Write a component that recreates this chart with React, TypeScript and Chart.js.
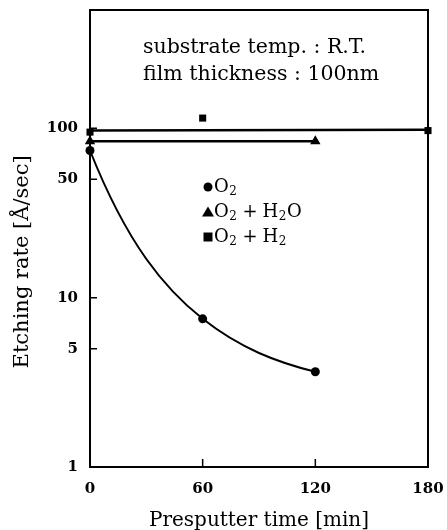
import React, { useEffect, useRef } from "react";
import { Chart, registerables } from "chart.js";

Chart.register(...registerables);

// ---- data ----
const xTicks = [0, 60, 120, 180];
const yTicks = [1, 5, 10, 50, 100];
const seriesNames = ["O2", "O2+H2O", "O2+H2"];
const o2X = [0, 60, 120];
const o2Y = [74, 7.5, 3.65];
const h2oX = [0, 120];
const h2oY = [84, 84];
const h2X = [0, 60, 180];
const h2Y = [95, 115, 97];
const h2FitX = [0, 180];
const h2FitY = [97, 98];
const noteLines = ["substrate temp. : R.T.", "film thickness : 100nm"];
const xTitle = "Presputter time [min]";
const yTitle = "Etching rate [Å/sec]";

const FONT = "'DejaVu Serif', 'Liberation Serif', serif";

const pts = (xs: number[], ys: number[]) => xs.map((x, i) => ({ x, y: ys[i] }));

function drawChem(ctx: CanvasRenderingContext2D, label: string, x: number, y: number, size: number) {
  let cx = x;
  ctx.textBaseline = "middle";
  ctx.textAlign = "left";
  for (const ch of label) {
    if (/\d/.test(ch)) {
      ctx.font = `${Math.round(size * 0.67)}px ${FONT}`;
      ctx.fillText(ch, cx + 0.5, y + size * 0.28);
      cx += ctx.measureText(ch).width + 1;
    } else if (ch === "+") {
      ctx.font = `${size}px ${FONT}`;
      cx += size * 0.28;
      ctx.fillText("+", cx, y);
      cx += ctx.measureText("+").width + size * 0.28;
    } else {
      ctx.font = `${size}px ${FONT}`;
      ctx.fillText(ch, cx, y);
      cx += ctx.measureText(ch).width;
    }
  }
}

function drawMarker(ctx: CanvasRenderingContext2D, style: string, x: number, y: number) {
  ctx.beginPath();
  if (style === "circle") {
    ctx.arc(x, y, 4.5, 0, Math.PI * 2);
  } else if (style === "triangle") {
    ctx.moveTo(x, y - 5.5);
    ctx.lineTo(x + 6, y + 4.5);
    ctx.lineTo(x - 6, y + 4.5);
    ctx.closePath();
  } else {
    ctx.rect(x - 4.5, y - 4.5, 9, 9);
  }
  ctx.fill();
}

// smooth decay curve through the O2 points (Hermite segments, tangents of a
// geometric-decay model of the three equally spaced points, in pixel space)
const curvePlugin = {
  id: "o2curve",
  beforeDatasetsDraw(chart: any) {
    const { ctx, scales } = chart;
    const P = o2X.map((x, i) => ({
      x: scales.x.getPixelForValue(x),
      y: scales.y.getPixelForValue(o2Y[i]),
    }));
    const d1 = P[1].y - P[0].y;
    const d2 = P[2].y - P[1].y;
    const h = P[1].x - P[0].x;
    const q = d2 / d1;
    const c = -h / Math.log(q);
    const A = d1 / (1 - q);
    const m = [A / c, (A * q) / c, (A * q * q) / c];
    ctx.save();
    ctx.strokeStyle = "#000";
    ctx.lineWidth = 2;
    ctx.beginPath();
    ctx.moveTo(P[0].x, P[0].y);
    for (let i = 0; i < P.length - 1; i++) {
      const a = P[i];
      const b = P[i + 1];
      const hh = (b.x - a.x) / 3;
      ctx.bezierCurveTo(a.x + hh, a.y + m[i] * hh, b.x - hh, b.y - m[i + 1] * hh, b.x, b.y);
    }
    ctx.stroke();
    ctx.restore();
  },
};

const decorPlugin = {
  id: "decor",
  afterDraw(chart: any) {
    const { ctx, chartArea: a, scales } = chart;
    const xs = scales.x;
    const ys = scales.y;
    ctx.save();
    ctx.strokeStyle = "#000";
    ctx.fillStyle = "#000";
    // frame
    ctx.lineWidth = 2;
    ctx.strokeRect(a.left, a.top, a.right - a.left, a.bottom - a.top);
    // inward ticks
    ctx.lineWidth = 1.5;
    ctx.beginPath();
    for (const v of yTicks) {
      if (v === 1) continue;
      const py = ys.getPixelForValue(v);
      ctx.moveTo(a.left, py);
      ctx.lineTo(a.left + 7, py);
    }
    for (const v of xTicks) {
      if (v === 0 || v === 180) continue;
      const px = xs.getPixelForValue(v);
      ctx.moveTo(px, a.bottom);
      ctx.lineTo(px, a.bottom - 8);
    }
    ctx.stroke();
    // notes
    ctx.font = `20.5px ${FONT}`;
    ctx.textAlign = "left";
    ctx.textBaseline = "alphabetic";
    ctx.fillText(noteLines[0], 143, 53);
    ctx.fillText(noteLines[1], 143, 80);
    // legend
    const styles = ["circle", "triangle", "rect"];
    seriesNames.forEach((name, i) => {
      const y = 187 + i * 25;
      drawMarker(ctx, styles[i], 208, y);
      drawChem(ctx, name, 214, y, 18);
    });
    ctx.restore();
  },
};

export default function App() {
  const ref = useRef<HTMLCanvasElement | null>(null);
  useEffect(() => {
    if (!ref.current) return;
    const chart = new Chart(ref.current, {
      type: "line",
      data: {
        datasets: [
          {
            label: "O2",
            data: pts(o2X, o2Y),
            showLine: false,
            borderColor: "#000",
            backgroundColor: "#000",
            pointStyle: "circle",
            pointRadius: 4.5,
            pointBackgroundColor: "#000",
            pointBorderWidth: 0,
            clip: false,
          },
          {
            label: "O2+H2O",
            data: pts(h2oX, h2oY),
            borderColor: "#000",
            backgroundColor: "#000",
            borderWidth: 2.5,
            tension: 0,
            pointStyle: "triangle",
            pointRadius: 6,
            pointBackgroundColor: "#000",
            pointBorderWidth: 0,
            clip: false,
          },
          {
            label: "O2+H2",
            data: pts(h2X, h2Y),
            showLine: false,
            borderColor: "#000",
            backgroundColor: "#000",
            pointStyle: "rect",
            pointRadius: 5,
            pointBackgroundColor: "#000",
            pointBorderWidth: 0,
            clip: false,
          },
          {
            label: "O2+H2 fit",
            data: pts(h2FitX, h2FitY),
            borderColor: "#000",
            borderWidth: 2.5,
            pointRadius: 0,
            tension: 0,
            clip: false,
          },
        ],
      },
      options: {
        responsive: false,
        animation: false,
        devicePixelRatio: 1,
        layout: { padding: { top: 10, right: 19, left: 0, bottom: 0 } },
        plugins: { legend: { display: false }, tooltip: { enabled: false } },
        scales: {
          x: {
            type: "linear",
            min: 0,
            max: 180,
            grid: { display: false, drawTicks: false, tickLength: 0 },
            border: { display: false },
            afterBuildTicks: (s: any) => {
              s.ticks = xTicks.map((v) => ({ value: v }));
            },
            afterFit: (s: any) => {
              s.height = 63;
              s.paddingLeft = 0;
              s.paddingRight = 0;
            },
            ticks: {
              color: "#000",
              padding: 13,
              maxRotation: 0,
              font: { family: FONT, size: 15, weight: "bold" },
              callback: (v: any) => String(v),
            },
            title: {
              display: true,
              text: xTitle,
              color: "#000",
              font: { family: FONT, size: 20, lineHeight: 1 },
              padding: { top: 0, bottom: -1 },
            },
          },
          y: {
            type: "logarithmic",
            min: 1,
            max: 500,
            grid: { display: false, drawTicks: false, tickLength: 0 },
            border: { display: false },
            afterBuildTicks: (s: any) => {
              s.ticks = yTicks.map((v) => ({ value: v }));
            },
            afterFit: (s: any) => {
              s.width = 90;
              s.paddingTop = 0;
              s.paddingBottom = 0;
            },
            ticks: {
              color: "#000",
              padding: 12,
              font: { family: FONT, size: 15, weight: "bold" },
              callback: (v: any) => String(v),
            },
            title: {
              display: true,
              text: yTitle + "       ",
              color: "#000",
              font: { family: FONT, size: 21, lineHeight: 1 },
              padding: { top: 12, bottom: 0 },
            },
          },
        },
      },
      plugins: [curvePlugin, decorPlugin],
    } as any);
    return () => chart.destroy();
  }, []);
  return (
    <div style={{ position: "absolute", left: 0, top: 0, width: 447, height: 530, background: "#fff" }}>
      <canvas ref={ref} width={447} height={530} style={{ display: "block" }} />
    </div>
  );
}
